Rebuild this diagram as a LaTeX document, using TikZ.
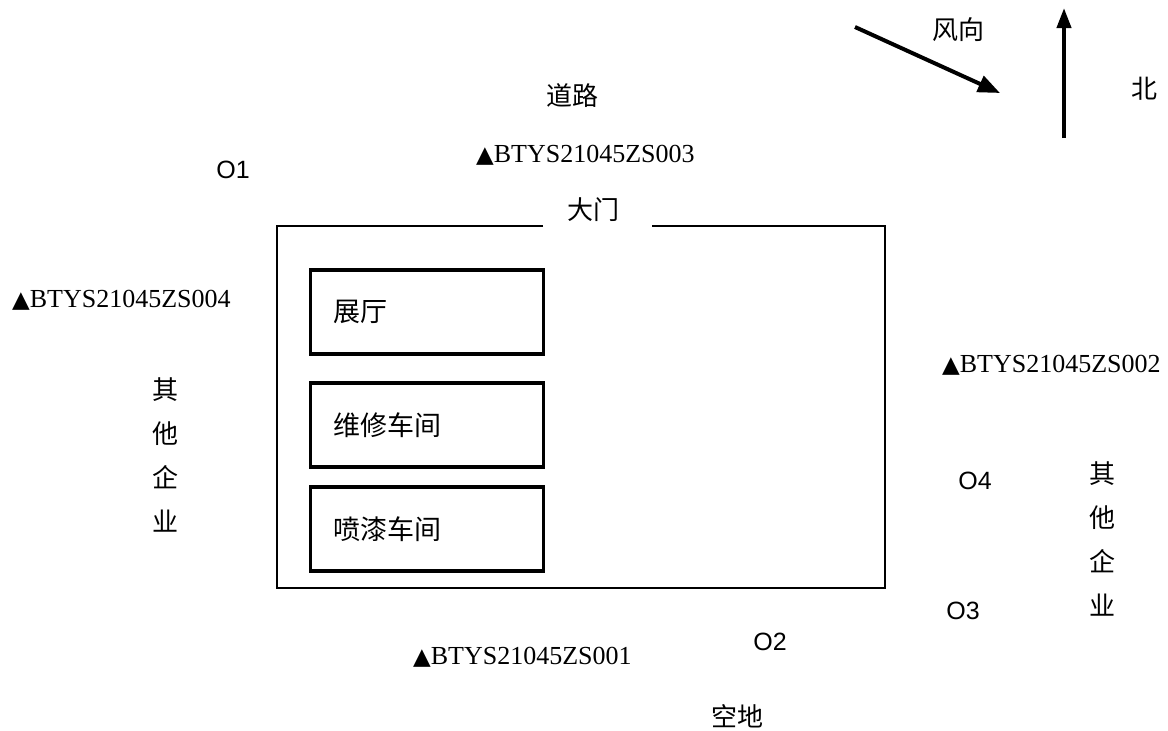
\documentclass[tikz,border=0pt]{standalone}
\usepackage{fontspec}
\setmainfont{Liberation Serif}
\newfontfamily\cjk{Noto Sans CJK SC}
\newfontfamily\pointfont{Liberation Sans}
\newfontfamily\symfont{DejaVu Sans}
\usetikzlibrary{arrows.meta,positioning}

% monitoring point label with a filled triangle
\newcommand{\monpt}[1]{{\fontsize{23}{23}\symfont ▲}#1}

\tikzset{
  room/.style={draw, line width=3.5pt, minimum height=84pt, text width=187pt,
    inner xsep=23pt, inner ysep=0pt, align=left, font=\fontsize{27}{30}\selectfont\cjk},
  cjklabel/.style={font=\fontsize{26}{30}\selectfont\cjk, inner sep=0pt},
  vlabel/.style={font=\fontsize{26}{44}\selectfont\cjk, align=center, inner sep=0pt},
  station/.style={font=\fontsize{26}{30}\selectfont, inner sep=0pt, anchor=west},
  opoint/.style={font=\fontsize{25}{28}\selectfont\pointfont, inner sep=0pt},
  bigarrow/.style={line width=4pt, -{Triangle[length=22pt, width=17pt]}}
}

\begin{document}
\begin{tikzpicture}[x=1pt, y=-1pt]
    \useasboundingbox (0,0) rectangle (1168,731);

    % site boundary with gate gap
    \draw[line width=1.5pt] (543,226) -- (277,226) -- (277,588) -- (885,588) -- (885,226) -- (652,226);
    \node[cjklabel] (gate) at (593,210) {大门};

    % buildings
    \node[room] (hall) at (427,312) {展厅};
    \node[room, below=25.5pt of hall] (repair) {维修车间};
    \node[room, below=16.5pt of repair] (paint) {喷漆车间};

    % surroundings
    \node[cjklabel] (road) at (572,96) {道路};
    \node[cjklabel] (empty) at (737,716) {空地};
    \node[vlabel] (westco) at (165,455) {其\\他\\企\\业};
    \node[vlabel] (eastco) at (1102,539) {其\\他\\企\\业};

    % monitoring points
    \node[station] (zs003) at (476,155) {\monpt{BTYS21045ZS003}};
    \node[station] (zs004) at (12,300) {\monpt{BTYS21045ZS004}};
    \node[station] (zs002) at (942,365) {\monpt{BTYS21045ZS002}};
    \node[station] (zs001) at (413,657) {\monpt{BTYS21045ZS001}};

    % odour points
    \node[opoint] (o1) at (233,170) {O1};
    \node[opoint] (o2) at (770,642) {O2};
    \node[opoint] (o3) at (963,611) {O3};
    \node[opoint] (o4) at (975,481) {O4};

    % wind direction
    \coordinate (windtail) at (855,27);
    \coordinate (windhead) at (1000,93);
    \draw[bigarrow] (windtail) -- (windhead);
    \node[cjklabel] (wind) at (958,30) {风向};

    % north
    \coordinate (northtail) at (1064,138);
    \coordinate (northhead) at (1064,8);
    \draw[bigarrow, -{Triangle[length=20pt, width=14pt]}] (northtail) -- (northhead);
    \node[cjklabel] (north) at (1144,89) {北};
\end{tikzpicture}
\end{document}
